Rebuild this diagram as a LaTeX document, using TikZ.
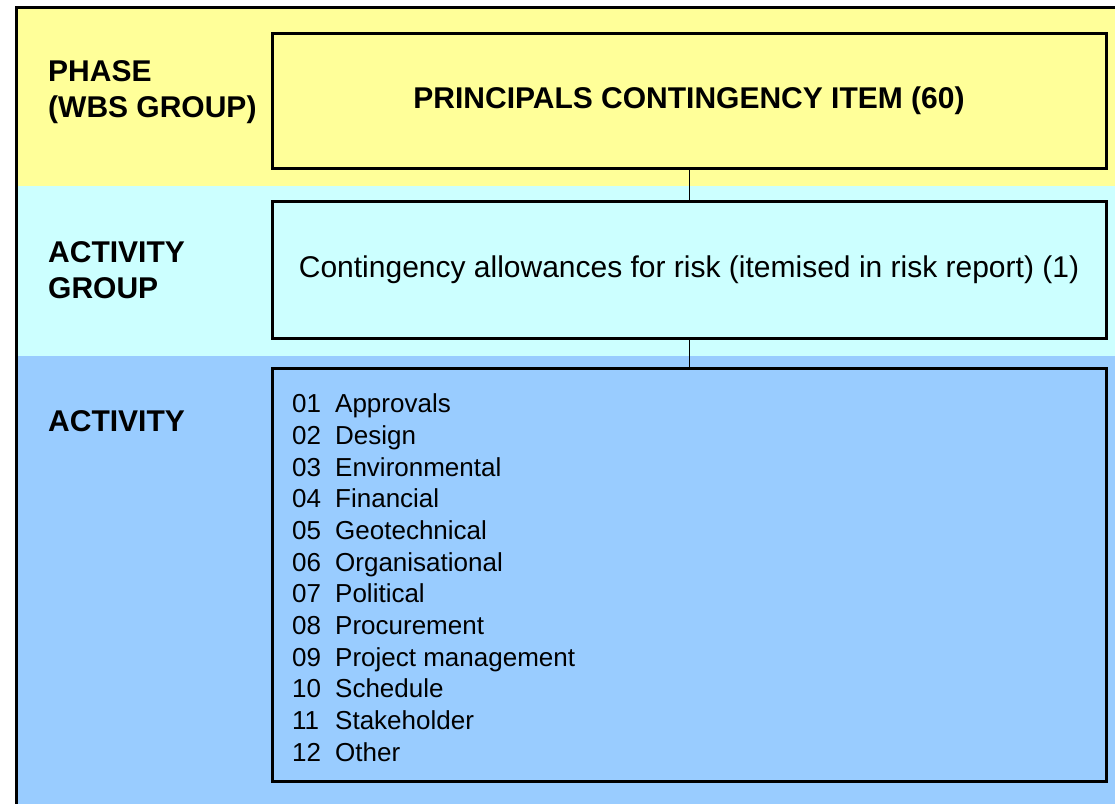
\documentclass[tikz,border=0pt]{standalone}
\usepackage{fontspec}
\setmainfont{Liberation Sans}
\definecolor{phaseyellow}{HTML}{FFFF99}
\definecolor{groupcyan}{HTML}{CCFFFF}
\definecolor{activityblue}{HTML}{99CCFF}
\newcommand{\riskitem}[2]{\makebox[43pt][l]{#1}#2}
\begin{document}
\begin{tikzpicture}[
  x=1pt, y=-1pt,
  levelbox/.style={draw, line width=3pt, minimum width=834pt, inner sep=0pt, align=center},
  rowlabel/.style={anchor=base west, align=left, inner sep=0pt, font=\fontsize{30}{36}\selectfont\bfseries},
  linkline/.style={line width=1pt}
]
\useasboundingbox (0,0) rectangle (1115,803);
\clip (0,0) rectangle (1115,803);
\fill[phaseyellow] (16.5,7.5) rectangle (1120,186);
\fill[groupcyan] (16.5,186) rectangle (1120,355.5);
\fill[activityblue] (16.5,355.5) rectangle (1120,810);
\draw[line width=3pt] (16.5,810) -- (16.5,7.5) -- (1120,7.5);
\node[rowlabel] (phaselabel) at (48,117) {PHASE\\(WBS GROUP)};
\node[rowlabel] (grouplabel) at (48,298) {ACTIVITY\\GROUP};
\node[rowlabel] (activitylabel) at (48,431.5) {ACTIVITY};
\node[levelbox, fill=phaseyellow, minimum height=135pt, font=\fontsize{30}{36}\selectfont\bfseries] (phasebox) at (689,101) {PRINCIPALS CONTINGENCY ITEM (60)};
\node[levelbox, fill=groupcyan, minimum height=136.5pt, font=\fontsize{30}{36}\selectfont] (groupbox) at (689,269.75) {Contingency allowances for risk (itemised in risk report) (1)};
\node[levelbox, fill=activityblue, minimum height=413pt] (activitybox) at (689,575) {};
\node[anchor=base west, align=left, inner sep=0pt, font=\fontsize{26}{31.65}\selectfont] (activitylist) at (292,761) {
  \riskitem{01}{Approvals}\\
  \riskitem{02}{Design}\\
  \riskitem{03}{Environmental}\\
  \riskitem{04}{Financial}\\
  \riskitem{05}{Geotechnical}\\
  \riskitem{06}{Organisational}\\
  \riskitem{07}{Political}\\
  \riskitem{08}{Procurement}\\
  \riskitem{09}{Project management}\\
  \riskitem{10}{Schedule}\\
  \riskitem{11}{Stakeholder}\\
  \riskitem{12}{Other}
};
\draw[linkline] (phasebox) -- (groupbox);
\draw[linkline] (groupbox) -- (activitybox);
\end{tikzpicture}
\end{document}
